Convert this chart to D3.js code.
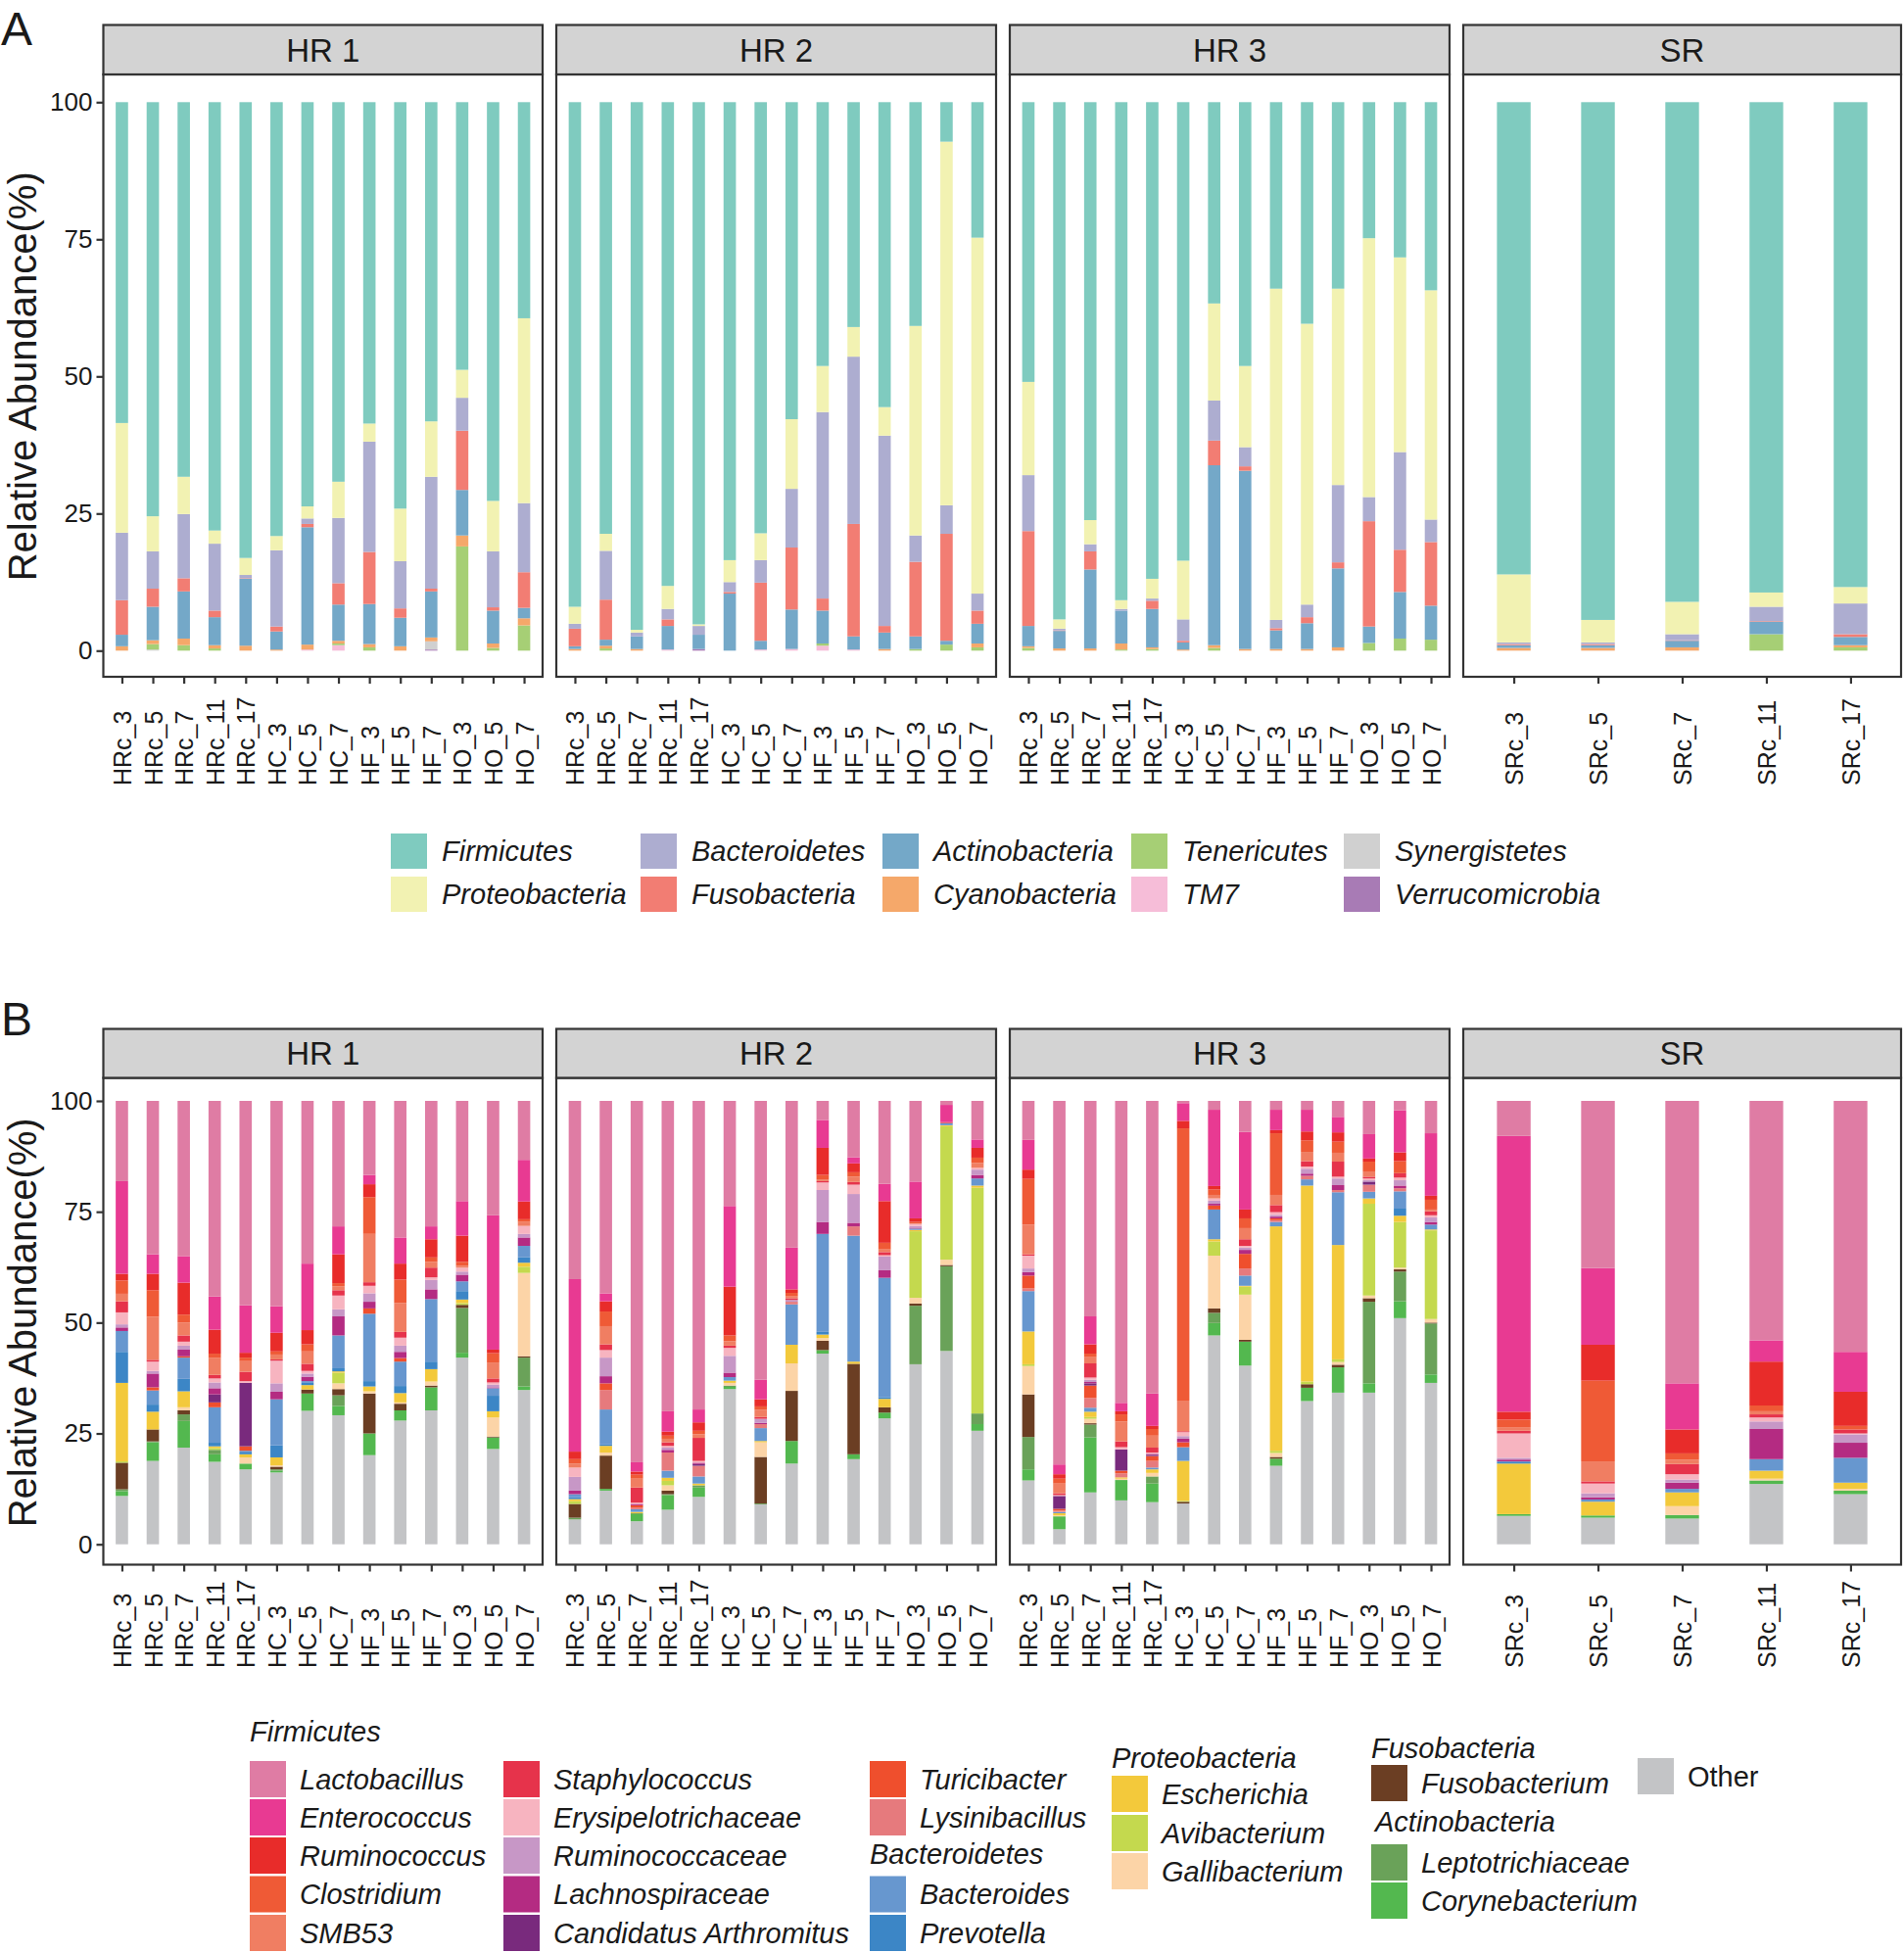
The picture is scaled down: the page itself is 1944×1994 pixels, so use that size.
<!DOCTYPE html>
<html><head><meta charset="utf-8">
<script src="https://cdn.jsdelivr.net/npm/d3@7"></script>
<style>
body{margin:0;background:#fff}
svg{display:block}
text{font-family:"Liberation Sans",Arial,Helvetica,sans-serif}
</style>
</head><body>
<svg id="c" width="1944" height="1994"></svg>
<script>
// ================= DATA =================
const facets = ["HR 1","HR 2","HR 3","SR"];
const hrSamples = ["HRc_3","HRc_5","HRc_7","HRc_11","HRc_17","HC_3","HC_5","HC_7","HF_3","HF_5","HF_7","HO_3","HO_5","HO_7"];
const srSamples = ["SRc_3","SRc_5","SRc_7","SRc_11","SRc_17"];
const yTicks = [0,25,50,75,100];

// ---- Panel A: phyla (legend order; first = top of stack) ----
const phylumNames = ["Firmicutes","Proteobacteria","Bacteroidetes","Fusobacteria","Actinobacteria","Cyanobacteria","Tenericutes","TM7","Synergistetes","Verrucomicrobia"];
// values per sample: HR1(14) | HR2(14) | HR3(14) | SR(5)
const firmicutes     = [58.5,75.5,68.3,78.1,83.1,79.1,73.7,69.2,58.6,74.1,58.2,48.8,72.7,39.4, 92.0,78.7,96.2,88.2,95.2,83.5,78.6,57.8,48.1,41.0,55.6,40.8,7.2,24.7, 51.0,94.3,76.2,90.8,86.9,83.6,36.7,48.1,34.0,40.4,34.0,24.8,28.3,34.3, 86.1,94.4,91.1,89.4,88.4];
const proteobacteria = [20.0,6.4,6.8,2.4,3.1,2.6,2.2,6.6,3.3,9.6,10.1,5.1,9.2,33.7, 3.1,3.1,0.5,4.2,0.3,4.0,4.9,12.7,8.4,5.4,5.2,38.2,66.3,64.9, 17.0,1.7,4.4,1.6,3.6,10.7,17.7,14.8,60.4,51.2,35.8,47.2,35.5,41.8, 12.4,4.1,5.9,2.6,3.0];
const bacteroidetes  = [12.3,6.8,11.7,12.2,0.6,13.9,1.0,11.9,20.1,8.6,20.4,6.0,10.2,12.6, 0.9,8.9,0.7,1.9,1.6,1.8,4.1,10.7,34.0,30.5,34.7,4.8,5.2,3.1, 10.2,0.3,1.3,0.3,0.4,3.9,7.3,3.5,1.5,2.3,14.1,4.4,17.8,4.1, 0.3,0.3,1.1,2.6,5.6];
const fusobacteria   = [6.3,3.3,2.4,1.2,0.1,0.9,0.6,3.9,9.5,1.7,0.5,10.8,0.6,6.5, 3.2,7.3,0,1.2,0,0.3,10.6,11.3,2.2,20.5,1.2,13.6,19.5,2.4, 17.3,0.1,3.3,0,1.5,0.3,4.5,0.8,0.4,1.1,1.1,19.2,7.7,11.6, 0.2,0.2,0.1,0.1,0.5];
const actinobacteria = [2.1,6.1,8.6,5.1,12.2,3.3,21.4,6.6,7.3,5.2,8.4,8.3,6.0,1.9, 0.5,1.1,2.3,4.3,2.6,10.4,1.6,7.2,6.0,2.4,3.0,2.3,0.7,3.6, 3.7,3.2,14.4,6.0,7.0,1.3,32.8,32.5,3.4,4.7,14.4,3.0,8.5,6.2, 0.5,0.5,1.2,2.3,1.5];
const cyanobacteria  = [0.8,0.7,1.2,0.6,0.9,0.2,0.9,0.5,0.6,0.8,0.7,2.0,0.8,1.3, 0.3,0.5,0.3,0,0,0,0,0,0,0,0.3,0,0,0.7, 0.3,0.4,0.4,1.1,0.3,0.2,0.5,0.3,0.3,0.3,0.6,0,0,0, 0.5,0.5,0.6,0,0.4];
const tenericutes    = [0,1.0,1.0,0.4,0,0,0,0.3,0.6,0,0,19.0,0.5,4.6, 0,0.4,0,0,0,0,0,0,0.4,0,0,0.3,1.1,0.6, 0.5,0,0,0.2,0.3,0,0.5,0,0,0,0,1.4,2.2,2.0, 0,0,0,3.0,0.6];
const tm7            = [0,0,0,0,0,0,0.2,1.0,0,0,0,0,0,0, 0,0,0,0.2,0,0,0.2,0.3,0.9,0.2,0,0,0,0, 0,0,0,0,0,0,0,0,0,0,0,0,0,0, 0,0,0,0,0];
const synergistetes  = [0,0.2,0,0,0,0,0,0,0,0,1.5,0,0,0, 0,0,0,0,0,0,0,0,0,0,0,0,0,0, 0,0,0,0,0,0,0,0,0,0,0,0,0,0, 0,0,0,0,0];
const verrucomicrobia= [0,0,0,0,0,0,0,0,0,0,0.2,0,0,0, 0,0,0,0,0.3,0,0,0,0,0,0,0,0,0, 0,0,0,0,0,0,0,0,0,0,0,0,0,0, 0,0,0,0,0];

// ---- Panel B: genera (legend order; first = top of stack) ----
const genusNames = ["Lactobacillus","Enterococcus","Ruminococcus","Clostridium","SMB53","Staphylococcus","Erysipelotrichaceae","Ruminococcaceae","Lachnospiraceae","Candidatus Arthromitus","Turicibacter","Lysinibacillus","Bacteroides","Prevotella","Escherichia","Avibacterium","Gallibacterium","Fusobacterium","Leptotrichiaceae","Corynebacterium","Other"];
const lactobacillus  = [18.1,34.6,35.0,44.1,46.1,46.3,36.7,28.3,16.7,30.8,28.3,22.6,25.8,13.3, 40.2,43.4,81.5,70.0,69.6,23.7,62.9,33.1,4.3,12.7,18.7,18.2,0.9,8.7, 8.8,82.0,48.6,68.1,66.0,0.5,2.0,7.0,2.0,2.0,3.6,7.5,2.1,7.3, 7.9,37.7,63.7,54.0,56.6];
const enterococcus   = [20.9,4.4,6.0,7.5,10.7,6.0,15.0,6.3,2.1,5.9,2.9,7.8,30.3,9.4, 38.9,1.8,2.1,4.6,2.9,18.2,4.4,9.4,6.3,1.4,3.9,8.3,3.9,1.9, 6.7,2.2,6.3,1.9,7.3,4.0,17.2,17.5,4.6,4.9,3.5,5.5,9.5,14.1, 62.2,17.3,10.4,4.8,9.0];
const ruminococcus   = [1.5,3.7,7.2,5.4,1.1,4.2,3.2,6.5,2.9,3.6,4.1,5.9,0.8,4.0, 1.7,2.3,0.7,0.9,1.9,11.0,1.6,0.8,6.1,2.0,9.4,0.8,0.2,2.2, 2.1,1.0,2.1,0.7,0.7,1.7,0.8,2.0,0.7,2.0,2.1,0.7,2.0,0.9, 1.8,8.1,5.4,9.9,7.7];
const clostridium    = [3.0,6.0,1.8,1.0,0.8,0.7,1.6,0.7,8.3,5.3,1.0,0.9,2.1,0.6, 1.0,3.3,0.9,0.7,0.8,1.3,0.8,0.8,1.0,1.0,1.5,0.4,0,1.2, 10.3,1.1,0.8,1.6,1.5,61.4,1.2,2.2,13.9,2.6,2.5,2.2,2.7,2.2, 1.8,18.2,1.4,1.3,0.8];
const smb53          = [1.7,9.7,2.9,3.8,2.4,1.1,2.8,0.9,10.9,6.5,1.3,0.4,3.6,0.9, 0.9,4.1,2.0,0.8,0.8,1.0,1.6,0.4,0.4,1.2,0.6,0,0,1.1, 6.7,2.2,1.4,4.5,2.7,6.9,0.8,2.5,2.3,2.1,2.0,1.2,0,0.4, 0.7,4.5,1.0,0.7,0];
const staphylococcus = [2.5,0.4,1.4,0.8,2.1,0.3,1.6,1.2,0.8,1.3,2.2,0,0.9,0, 0,1.3,3.4,0.8,5.2,0.5,0.4,0.4,0.3,0.6,0.7,0,0,0, 0.3,0.4,3.2,1.3,1.1,0.2,0,1.5,1.6,1.2,3.4,0.4,1.0,0.9, 0.6,0.5,2.3,0.7,0.9];
const erysipelotrichaceae = [2.7,2.1,0.9,0.9,0.4,5.1,0.6,3.1,1.7,1.8,0.6,0.9,0.5,1.8, 2.1,1.7,0.3,0.4,0.4,1.8,0,0,1.7,2.1,0.3,0.5,0,0.4, 2.9,0.2,0.5,0.5,0.3,0.9,0.5,0.4,0.6,0.5,0.4,0.4,0.6,0.5, 5.5,2.2,1.2,0.9,0.2];
const ruminococcaceae = [0.7,0.6,0.9,1.3,0,1.9,0.7,1.6,1.9,1.4,2.1,0.7,0.6,0.8, 3.1,4.2,0,0.5,0,3.8,0.9,0.4,7.2,6.5,3.1,0.4,0,1.2, 0.8,0,0.5,0,0,0.6,0.7,0.5,0.4,1.1,1.5,0.3,1.2,1.0, 0.4,0.9,0.7,1.7,1.9];
const lachnospiraceae = [0.8,3.1,1.5,1.4,0,1.7,1.0,4.3,1.5,1.4,2.2,1.5,0.2,1.9, 0.8,1.6,0.3,0.6,0.3,1.0,0.3,0,2.7,0.8,1.7,0.2,0,0.8, 0.8,0,0.3,0,0.2,0.8,0.4,0.9,0.4,0.5,1.1,0,0.6,0.6, 0.4,0.5,1.4,6.8,3.4];
const candidatusArthromitus = [0,0,0,1.8,14.3,0,0,0,0,0,0,0,0,0, 0,0,0,0,0.4,0,0,0,0,0,0,0,0,0, 0,2.9,0.5,4.8,0.3,0,0,0,0,0,0,0.7,0,0, 0,0,0,0,0];
const turicibacter   = [0,0.7,0.3,1.1,1.0,0,0,0,1.2,0.8,0,0,0,0, 0,1.5,0.5,0,0,0,0,0,0,0,0,0,0,0, 2.9,0.4,2.8,0.6,1.1,1.1,0.9,3.3,0.4,0,0,0,0,0, 0,0,0,0,0];
const lysinibacillus = [0,0,0,0,0,0,0,0,0,0,0,0,0,0, 0,4.4,0.4,4.1,2.4,0,0.9,0.6,0,2.1,0,0,0,0, 0.6,0.3,2.2,0.9,1.5,0,0,1.6,0.4,0.8,0.5,1.6,0.7,0, 0,0,0,0,0];
const bacteroides    = [4.7,3.2,4.8,8.0,0.4,10.4,0.4,7.4,15.2,5.5,14.1,2.2,1.7,2.6, 0.7,7.9,0.6,1.6,1.6,0.8,2.9,9.1,22.1,28.4,26.9,0.3,0.5,1.6, 9.1,0.3,0.9,0,0.4,3.1,6.7,2.3,1.0,1.4,11.9,1.5,3.9,1.1, 0.2,0.5,0.8,2.6,5.6];
const prevotella     = [7.0,1.6,2.8,0.8,0.4,2.7,0.5,0.7,1.2,1.6,1.7,1.9,3.5,1.2, 0.4,0.3,0,0,0,0,0,0,0.6,0,0.4,0,0,0, 0,0,0,0,0,0,0,0,0,0,0,0,1.6,0, 0.3,0,0,0,0];
const escherichia    = [17.7,4.0,3.6,0.4,0.7,1.8,1.0,0.3,1.1,2.1,2.8,0.8,1.4,0.9, 0.5,1.5,0.3,0.7,0.4,0.5,0.3,4.2,0.8,0.5,1.9,0.3,0.2,0.5, 7.4,0.5,1.2,0.3,0.8,9.0,0.5,0.2,50.6,44.2,25.8,1.2,1.4,0.2, 11.4,3.1,3.1,1.8,1.4];
const avibacterium   = [0.3,0,0,0.4,0,0,0,2.4,0,0,0,0.4,0,1.4, 0.6,0,0,1.0,0,0,0,0,0,0,0,15.0,30.1,50.9, 0.4,0,0.4,0,0,0.2,3.2,1.8,0.5,0.6,0.6,20.7,10.3,20.0, 0,0,0,0,0];
const gallibacterium = [0,0,0.7,0,1.4,0.3,0,1.3,0.5,0.3,0.9,0,4.3,18.8, 0,0.7,0,1.2,0,0.6,3.3,6.2,0.6,0,0,1.3,1.2,0, 6.4,0.2,1.0,0.3,0.8,0,11.9,10.2,0.9,0,0.6,0.6,0.4,0.8, 0,0,2.0,0.4,0.4];
const fusobacterium  = [6.0,2.7,0.9,0,0,0.6,0.9,1.4,9.0,1.5,0.4,0.7,0.2,0.3, 3.1,7.5,0,0.8,0,0,10.5,11.3,2.1,20.4,1.2,0.5,0.3,0, 9.6,0,0.3,0,0,0.4,1.0,0.4,0.4,0.8,0.6,0.8,0.5,0.2, 0,0,0,0,0];
const leptotrichiaceae = [0.4,0.2,1.5,1.0,0,0.3,0,2.4,0,0,0,10.1,0,6.5, 0.4,0,0.2,0.2,0.5,0.3,0.2,0,0,0,0,13.2,19.1,2.4, 7.3,0,2.9,0,1.6,0,2.3,0,0,0,0,18.4,6.7,11.5, 0,0,0,0,0];
const corynebacterium = [1.1,4.2,6.0,1.7,1.3,0.4,3.9,2.1,4.9,2.3,5.2,1.1,2.6,0.8, 0,0.4,1.6,3.3,2.1,0.5,0,5.1,0.8,1.1,1.3,0,0,1.5, 2.5,2.9,12.4,4.6,4.2,0,2.8,5.4,1.6,3.0,5.7,2.1,3.8,1.9, 0.4,0.5,0.8,0.8,0.8];
const other          = [10.9,18.8,21.8,18.6,16.9,16.2,30.1,29.1,20.1,27.9,30.2,42.1,21.5,34.8, 5.6,12.1,5.2,7.8,10.7,35.0,9.0,18.2,43.0,19.2,28.4,40.6,43.6,25.6, 14.4,3.4,11.7,9.9,9.5,9.2,47.1,40.3,17.7,32.3,34.2,34.2,51.0,36.4, 6.4,6.0,5.8,13.6,11.3];

// ================= STYLE =================
const phylumValues = [firmicutes,proteobacteria,bacteroidetes,fusobacteria,actinobacteria,cyanobacteria,tenericutes,tm7,synergistetes,verrucomicrobia];
const phylumColors = ["#7FCBBF","#F2F2B2","#ADADD0","#F27D73","#74A8C8","#F5A86A","#A6CF75","#F6BDD8","#D0D0D0","#A87BB5"];
const genusValues = [lactobacillus,enterococcus,ruminococcus,clostridium,smb53,staphylococcus,erysipelotrichaceae,ruminococcaceae,lachnospiraceae,candidatusArthromitus,turicibacter,lysinibacillus,bacteroides,prevotella,escherichia,avibacterium,gallibacterium,fusobacterium,leptotrichiaceae,corynebacterium,other];
const genusColors = ["#DF7CA4","#E83A92","#E82C2A","#EF5A36","#F07E62","#E6334B","#F7B4C0","#C797C6","#B42B82","#792A7D","#EF4F2D","#E67A7D","#6797CF","#3C86C6","#F3C93B","#C4D94E","#FCD4A7","#6B3E23","#6AA259","#53B84F","#C3C4C6"];

const svg = d3.select("#c");
const INK = "#1a1a1a", LINE = "#333333";
const facetX = [[105.5,554],[568,1017],[1031,1480],[1494,1941]];

// sample table
const sampleRows = [];
facets.forEach((f,i)=>{ (i<3?hrSamples:srSamples).forEach(s=>sampleRows.push({facet:f,sample:s})); });

function buildRows(names, values){
  return sampleRows.map((r,i)=>{ const o={facet:r.facet,sample:r.sample}; names.forEach((n,k)=>o[n]=values[k][i]); return o; });
}

function drawChart(geom, names, values, colors){
  const rows = buildRows(names, values);
  const color = d3.scaleOrdinal().domain(names).range(colors);
  const y = d3.scaleLinear().domain([0,100]).range([geom.y0, geom.y100]);
  const stack = d3.stack().keys(names.slice().reverse());
  facets.forEach((f,fi)=>{
    const fr = rows.filter(r=>r.facet===f);
    const [x0,x1] = facetX[fi];
    const x = d3.scalePoint().domain(fr.map(r=>r.sample)).range([x0,x1]).padding(0.6);
    const bw = x.step()*0.4;
    const g = svg.append("g");
    g.append("rect").attr("x",x0).attr("y",geom.stripBottom).attr("width",x1-x0).attr("height",geom.panelBottom-geom.stripBottom).attr("fill","#fff");
    g.selectAll("g.s").data(stack(fr)).join("g").attr("class","s").attr("fill",s=>color(s.key))
      .selectAll("rect").data(s=>s).join("rect")
      .attr("x",d=>x(d.data.sample)-bw/2).attr("width",bw)
      .attr("y",d=>y(d[1])).attr("height",d=>Math.max(0,y(d[0])-y(d[1])));
    g.append("rect").attr("x",x0).attr("y",geom.stripBottom).attr("width",x1-x0).attr("height",geom.panelBottom-geom.stripBottom)
      .attr("fill","none").attr("stroke",LINE).attr("stroke-width",2.2);
    g.append("rect").attr("x",x0).attr("y",geom.stripTop).attr("width",x1-x0).attr("height",geom.stripBottom-geom.stripTop)
      .attr("fill","#D3D3D3").attr("stroke",LINE).attr("stroke-width",2.2);
    g.append("text").attr("x",(x0+x1)/2).attr("y",(geom.stripTop+geom.stripBottom)/2).attr("dy","0.36em")
      .attr("text-anchor","middle").attr("font-size",33).attr("fill",INK).text(f);
    const ax = g.append("g").attr("transform",`translate(0,${geom.panelBottom})`)
      .call(d3.axisBottom(x).tickSize(7).tickSizeOuter(0));
    ax.attr("font-family",null).attr("font-size",null);
    ax.select(".domain").remove();
    ax.selectAll(".tick line").attr("stroke",LINE).attr("stroke-width",2.2);
    ax.selectAll(".tick text").attr("x",0).attr("y",0).attr("dy","0.36em")
      .attr("transform",`translate(0,${geom.labelY-geom.panelBottom}) rotate(-90)`)
      .attr("text-anchor","start").attr("font-size",25).attr("fill",INK);
    if(fi===0){
      const ay = g.append("g").attr("transform",`translate(${x0},0)`)
        .call(d3.axisLeft(y).tickValues(yTicks).tickSize(7).tickPadding(4));
      ay.attr("font-family",null).attr("font-size",null);
      ay.select(".domain").remove();
      ay.selectAll(".tick line").attr("stroke",LINE).attr("stroke-width",2.2);
      ay.selectAll(".tick text").attr("font-size",26).attr("fill",INK);
    }
  });
  svg.append("text").attr("transform",`translate(37,${(geom.y0+geom.y100)/2}) rotate(-90)`)
    .attr("text-anchor","middle").attr("font-size",40).attr("fill",INK).text("Relative Abundance(%)");
  svg.append("text").attr("x",1).attr("y",geom.letterY).attr("font-size",48).attr("fill",INK).text(geom.letter);
}

drawChart({letter:"A",letterY:46,stripTop:25.5,stripBottom:76,panelBottom:691,y0:664.3,y100:104.3,labelY:802},
  phylumNames, phylumValues, phylumColors);
drawChart({letter:"B",letterY:1057,stripTop:1050.5,stripBottom:1100.5,panelBottom:1597.5,y0:1576.7,y100:1124,labelY:1703},
  genusNames, genusValues, genusColors);

// ================= LEGEND A =================
const legA = svg.append("g");
const colXA = [399,654,901,1155,1372], rowYA = [851,895];
phylumNames.forEach((n,i)=>{
  const kx = colXA[Math.floor(i/2)], ky = rowYA[i%2];
  legA.append("rect").attr("x",kx).attr("y",ky).attr("width",37).attr("height",36).attr("fill",phylumColors[i]);
  legA.append("text").attr("x",kx+52).attr("y",ky+18).attr("dy","0.36em").attr("font-size",29)
    .attr("font-style","italic").attr("fill",INK).text(n);
});

// ================= LEGEND B =================
const legB = svg.append("g");
const R = [1798,1837,1876,1915.5,1955];
const keyPos = [
  [255,R[0]],[255,R[1]],[255,R[2]],[255,R[3]],[255,R[4]],
  [514,R[0]],[514,R[1]],[514,R[2]],[514,R[3]],[514,R[4]],
  [888,R[0]],[888,R[1]],[888,R[3]],[888,R[4]],
  [1135,1813],[1135,1853],[1135,1892],
  [1400,1802],[1400,1883],[1400,1922],
  [1672,1795]
];
genusNames.forEach((n,i)=>{
  const [kx,ky] = keyPos[i];
  legB.append("rect").attr("x",kx).attr("y",ky).attr("width",37).attr("height",37).attr("fill",genusColors[i]);
  legB.append("text").attr("x",kx+51).attr("y",ky+18.5).attr("dy","0.36em").attr("font-size",29)
    .attr("font-style",n==="Other"?"normal":"italic").attr("fill",INK).text(n);
});
const groupTitles = [["Firmicutes",255,1768],["Bacteroidetes",888,1893],["Proteobacteria",1135,1795],["Fusobacteria",1400,1785],["Actinobacteria",1404,1860]];
groupTitles.forEach(([t,x,yv])=>{
  legB.append("text").attr("x",x).attr("y",yv).attr("dy","0.36em").attr("font-size",29)
    .attr("font-style","italic").attr("fill",INK).text(t);
});
</script>
</body></html>
